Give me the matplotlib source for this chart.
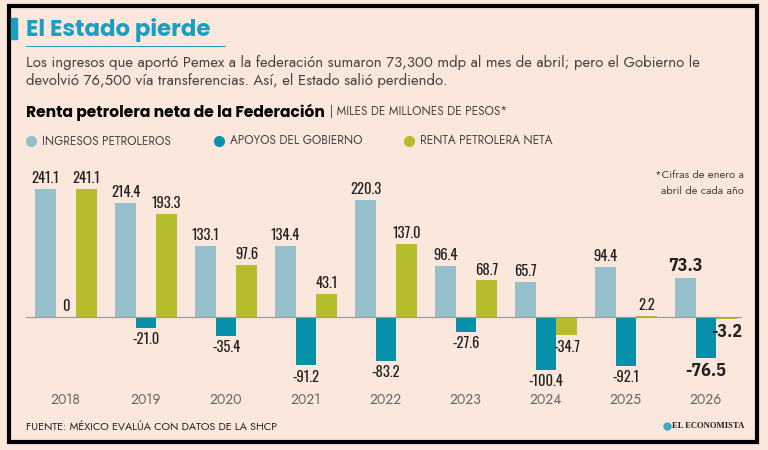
import numpy as np
import matplotlib.pyplot as plt
import matplotlib.transforms as mtransforms
from matplotlib.patches import Rectangle
from matplotlib.lines import Line2D

years = ["2018", "2019", "2020", "2021", "2022", "2023", "2024", "2025", "2026"]
ingresos = [241.1, 214.4, 133.1, 134.4, 220.3, 96.4, 65.7, 94.4, 73.3]
apoyos = [0, -21.0, -35.4, -91.2, -83.2, -27.6, -100.4, -92.1, -76.5]
renta = [241.1, 193.3, 97.6, 43.1, 137.0, 68.7, -34.7, 2.2, -3.2]

series_names = ["INGRESOS PETROLEROS", "APOYOS DEL GOBIERNO", "RENTA PETROLERA NETA"]

BG = "#fbe7db"
C_LIGHT = "#95c0cb"
C_TEAL = "#0791a9"
C_GREEN = "#b5bd2d"
C_TITLE = "#1a9fc3"
C_TEXT = "#444444"

NUM_FONT = ["Oswald", "Open Sans Condensed", "DejaVu Sans"]
NUM_BOLD = ["IBM Plex Sans Condensed", "DejaVu Sans"]
BODY_FONT = ["Jost", "Lato", "DejaVu Sans"]
HEAD_FONT = ["Poppins", "Lato", "DejaVu Sans"]

W, H = 768, 450


def fx(px):
    return px / W


def fy(py):
    return 1 - py / H


fig = plt.figure(figsize=(7.68, 4.5), dpi=100)
fig.patch.set_facecolor(BG)
renderer = fig.canvas.get_renderer()

# frame
fig.patches.append(Rectangle((fx(9), fy(442)), fx(748), (442 - 6) / H,
                             transform=fig.transFigure, fill=False,
                             edgecolor="black", linewidth=3))

# title block
fig.patches.append(Rectangle((fx(11), fy(39)), fx(6), 21 / H,
                             transform=fig.transFigure, color=C_TITLE))
fig.text(fx(26), fy(30), "El Estado pierde", fontsize=16.5, fontweight="bold",
         color=C_TITLE, family=HEAD_FONT, va="center", ha="left")
fig.add_artist(Line2D([fx(26), fx(225)], [fy(46), fy(46)], color=C_TITLE,
                      linewidth=0.7, transform=fig.transFigure))

fig.text(fx(26), fy(63), "Los ingresos que aportó Pemex a la federación sumaron 73,300 mdp al mes de abril; pero el Gobierno le",
         fontsize=10.75, color=C_TEXT, family=BODY_FONT, va="center")
fig.text(fx(26), fy(81), "devolvió 76,500 vía transferencias. Así, el Estado salió perdiendo.",
         fontsize=10.75, color=C_TEXT, family=BODY_FONT, va="center")

t = fig.text(fx(26), fy(112), "Renta petrolera neta de la Federación", fontsize=11.2,
             fontweight="bold", color="black", family=HEAD_FONT, va="center")
bb = t.get_window_extent(renderer)
fig.text(bb.x1 / W + fx(5), fy(112), "| MILES DE MILLONES DE PESOS*", fontsize=8.5,
         color=C_TEXT, family=BODY_FONT, va="center")

# legend
leg_x = [31, 219, 409]
for lx, name, col in zip(leg_x, series_names, [C_LIGHT, C_TEAL, C_GREEN]):
    fig.add_artist(Line2D([fx(lx)], [fy(141)], marker="o", markersize=7,
                          color=col, linestyle="none", transform=fig.transFigure))
    fig.text(fx(lx + 11), fy(141), name, fontsize=8.5, color=C_TEXT,
             family=BODY_FONT, va="center")

fig.text(fx(744), fy(175), "*Cifras de enero a", fontsize=8, color=C_TEXT,
         family=BODY_FONT, va="center", ha="right")
fig.text(fx(744), fy(191), "abril de cada año", fontsize=8, color=C_TEXT,
         family=BODY_FONT, va="center", ha="right")

# chart
ax = fig.add_axes([fx(26), fy(390), fx(716), 225 / H])
ax.set_facecolor("none")
x = np.arange(len(years))
w = 0.256
ax.bar(x - w, ingresos, w, color=C_LIGHT)
ax.bar(x, apoyos, w, color=C_TEAL)
ax.bar(x + w, renta, w, color=C_GREEN)
ax.axhline(0, color="#9a9a9a", linewidth=0.8)
ax.set_xlim(-0.5, 8.45)
ax.set_ylim(-137.5, 286)
ax.axis("off")

last = len(years) - 1
for vals, off in [(ingresos, -w), (apoyos, 0), (renta, w)]:
    for i, v in enumerate(vals):
        txt = "0" if v == 0 else f"{v:.1f}"
        bold = i == last
        size = 13 if bold else 10.5
        fam = NUM_BOLD if bold else NUM_FONT
        weight = "bold" if bold else "normal"
        if v >= 0:
            ax.annotate(txt, (x[i] + off, v), xytext=(0, 2), textcoords="offset points",
                        ha="center", va="bottom", fontsize=size, fontweight=weight,
                        family=fam, color="#222222")
        else:
            ax.annotate(txt, (x[i] + off, v), xytext=(0, -3), textcoords="offset points",
                        ha="center", va="top", fontsize=size, fontweight=weight,
                        family=fam, color="#222222")

trans = mtransforms.blended_transform_factory(ax.transData, fig.transFigure)
for i, yr in enumerate(years):
    ax.text(x[i], fy(400), yr, transform=trans, ha="center", va="center",
            fontsize=10, color="#666666", family=BODY_FONT)

fig.text(fx(26), fy(427), "FUENTE: MÉXICO EVALÚA CON DATOS DE LA SHCP", fontsize=7.8,
         color="#222222", family=BODY_FONT, va="center")
fig.add_artist(Line2D([fx(667)], [fy(426)], marker="o", markersize=5,
                      color="#3aa9c8", linestyle="none", transform=fig.transFigure))
fig.text(fx(744), fy(426), "EL ECONOMISTA", fontsize=6.2, fontweight="bold",
         color="#222222", family=["Liberation Serif", "DejaVu Serif"],
         va="center", ha="right")

fig.savefig("out.png", dpi=100, facecolor=BG)
